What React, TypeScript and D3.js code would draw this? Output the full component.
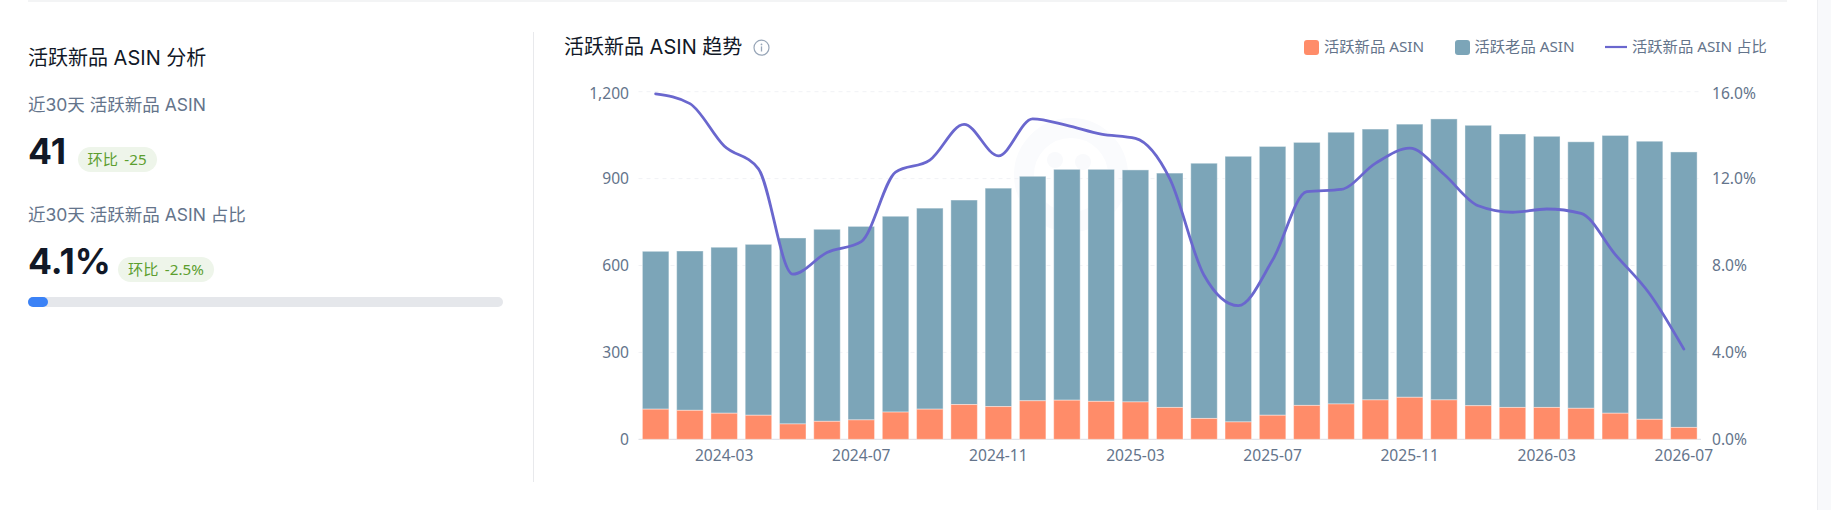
import React from "react";
import * as d3 from "d3";

const months = d3.range(31).map((i) => {
  const t = 2024 * 12 + i;
  return `${Math.floor(t / 12)}-${String((t % 12) + 1).padStart(2, "0")}`;
});
const newAsin = [104,100,90,83,53,62,67,94,104,120,113,133,135,131,129,110,72,60,83,117,122,136,145,136,116,110,110,107,90,69,41];
const totalAsin = [649,650,663,673,695,725,735,770,798,826,867,908,932,932,930,919,953,977,1011,1025,1060,1071,1088,1106,1084,1054,1046,1027,1049,1029,992];
const sharePct = [15.9,15.45,13.5,12.45,7.6,8.6,9.1,12.3,12.85,14.5,13.05,14.75,14.45,14.05,13.85,12.0,7.55,6.15,8.25,11.4,11.5,12.7,13.4,12.2,10.75,10.45,10.6,10.4,8.5,6.7,4.15];
const leftTicks = [0, 300, 600, 900, 1200];
const rightTicks = [0, 4, 8, 12, 16];
const xLabels = ["2024-03","2024-07","2024-11","2025-03","2025-07","2025-11","2026-03","2026-07"];

const FONT = "Inter, 'Noto Sans CJK SC', sans-serif";
const FONT2 = "'Noto Sans', 'Noto Sans CJK SC', sans-serif";
const ORANGE = "#ff8c69";
const TEAL = "#7ca5b8";
const PURPLE = "#6a67ce";
const AXIS = "#64748b";

export default function App() {
  const x = d3.scaleBand<string>().domain(months).range([638.5, 1701]).paddingInner(0.227).paddingOuter(0.1135);
  const y = d3.scaleLinear().domain([0, 1200]).range([439.3, 91.7]);
  const yr = d3.scaleLinear().domain([0, 16]).range([439.3, 91.7]);
  const cx = (m: string) => (x(m) as number) + x.bandwidth() / 2;
  const line = d3
    .line<number>()
    .x((_, i) => cx(months[i]))
    .y((d) => yr(d))
    .curve(d3.curveMonotoneX);

  return (
    <svg width={1831} height={510} style={{ position: "absolute", left: 0, top: 0, display: "block", background: "#fff" }} fontFamily={FONT}>
      <rect x={1817} y={0} width={14} height={510} fill="#f8f9fb" />
      <line x1={1817.5} x2={1817.5} y1={0} y2={510} stroke="#eeeff2" />
      <line x1={28} x2={1787} y1={1} y2={1} stroke="#e8e9ec" strokeWidth={1.2} />
      <line x1={533.5} x2={533.5} y1={32} y2={482} stroke="#e8e9ec" />

      {/* left panel */}
      <text x={28} y={65} fontSize={20} fill="#111827">活跃新品 ASIN 分析</text>
      <text x={28} y={111} fontSize={17.5} fill={AXIS}>近30天 活跃新品 ASIN</text>
      <text x={28} y={164} fontSize={35.5} fontWeight={700} fill="#111827">41</text>
      <rect x={78} y={147} width={79} height={25} rx={12.5} fill="#eef5ea" />
      <text x={87.5} y={165} fontSize={15.2} wordSpacing={2.5} fontFamily={FONT2} fill="#5c9e2f">环比 -25</text>
      <text x={28} y={221} fontSize={17.5} fill={AXIS}>近30天 活跃新品 ASIN 占比</text>
      <text x={28} y={274} fontSize={35.5} fontWeight={700} fill="#111827">4.1%</text>
      <rect x={118} y={257} width={96} height={25} rx={12.5} fill="#eef5ea" />
      <text x={128} y={275} fontSize={15.2} wordSpacing={2.5} fontFamily={FONT2} fill="#5c9e2f">环比 -2.5%</text>
      <rect x={28} y={297} width={475} height={10} rx={5} fill="#e5e7eb" />
      <rect x={28} y={297} width={20} height={10} rx={5} fill="#3b82f6" />

      {/* chart header */}
      <text x={564} y={54} fontSize={20} fill="#111827">活跃新品 ASIN 趋势</text>
      <circle cx={761.5} cy={47.7} r={7.5} fill="none" stroke="#98a6b8" strokeWidth={1.2} />
      <circle cx={761.5} cy={44.4} r={0.9} fill="#98a6b8" />
      <line x1={761.5} x2={761.5} y1={46.4} y2={51.5} stroke="#98a6b8" strokeWidth={1.3} />

      {/* legend */}
      <g fontFamily={FONT2} fontSize={15.3} fill={AXIS}>
        <rect x={1304} y={40} width={15} height={15} rx={3} fill={ORANGE} />
        <text x={1324} y={52}>活跃新品 ASIN</text>
        <rect x={1455} y={40} width={15} height={15} rx={3} fill={TEAL} />
        <text x={1474.5} y={52}>活跃老品 ASIN</text>
        <line x1={1605} x2={1627} y1={47} y2={47} stroke={PURPLE} strokeWidth={2.2} />
        <text x={1632} y={52}>活跃新品 ASIN 占比</text>
      </g>

      {/* watermark */}
      <circle cx={1071} cy={175} r={47} fill="none" stroke="#fafbfd" strokeWidth={20} />
      <circle cx={1055} cy={160} r={8} fill="#f9fafc" />
      <circle cx={1083} cy={162} r={8} fill="#f9fafc" />

      {/* grid */}
      {leftTicks.slice(1).map((t) => (
        <line key={t} x1={638.5} x2={1701} y1={y(t)} y2={y(t)} stroke="#f1f2f5" strokeDasharray="4 4" />
      ))}
      <line x1={638.5} x2={1701} y1={y(0)} y2={y(0)} stroke="#e2e4e9" strokeWidth={1.2} />

      {/* bars */}
      {months.map((m, i) => (
        <g key={m} strokeOpacity={0.4} stroke="#fff">
          <rect x={x(m)} y={y(totalAsin[i])} width={x.bandwidth()} height={y(newAsin[i]) - y(totalAsin[i])} fill={TEAL} />
          <rect x={x(m)} y={y(newAsin[i])} width={x.bandwidth()} height={y(0) - y(newAsin[i])} fill={ORANGE} />
        </g>
      ))}
      <path d={line(sharePct) as string} fill="none" stroke={PURPLE} strokeWidth={2.8} strokeLinecap="round" />

      {/* axes */}
      <g fontFamily={FONT2} fontSize={15.6} fill={AXIS}>
        {leftTicks.map((t) => (
          <text key={t} x={629} y={y(t) + (t === 1200 ? 7.5 : 5.5)} textAnchor="end">{d3.format(",")(t)}</text>
        ))}
        {rightTicks.map((t) => (
          <text key={t} x={1712} y={yr(t) + (t === 16 ? 7.5 : 5.5)}>{t.toFixed(1)}%</text>
        ))}
        {xLabels.map((m) => (
          <text key={m} x={cx(m)} y={460.5} textAnchor="middle">{m}</text>
        ))}
      </g>
    </svg>
  );
}
